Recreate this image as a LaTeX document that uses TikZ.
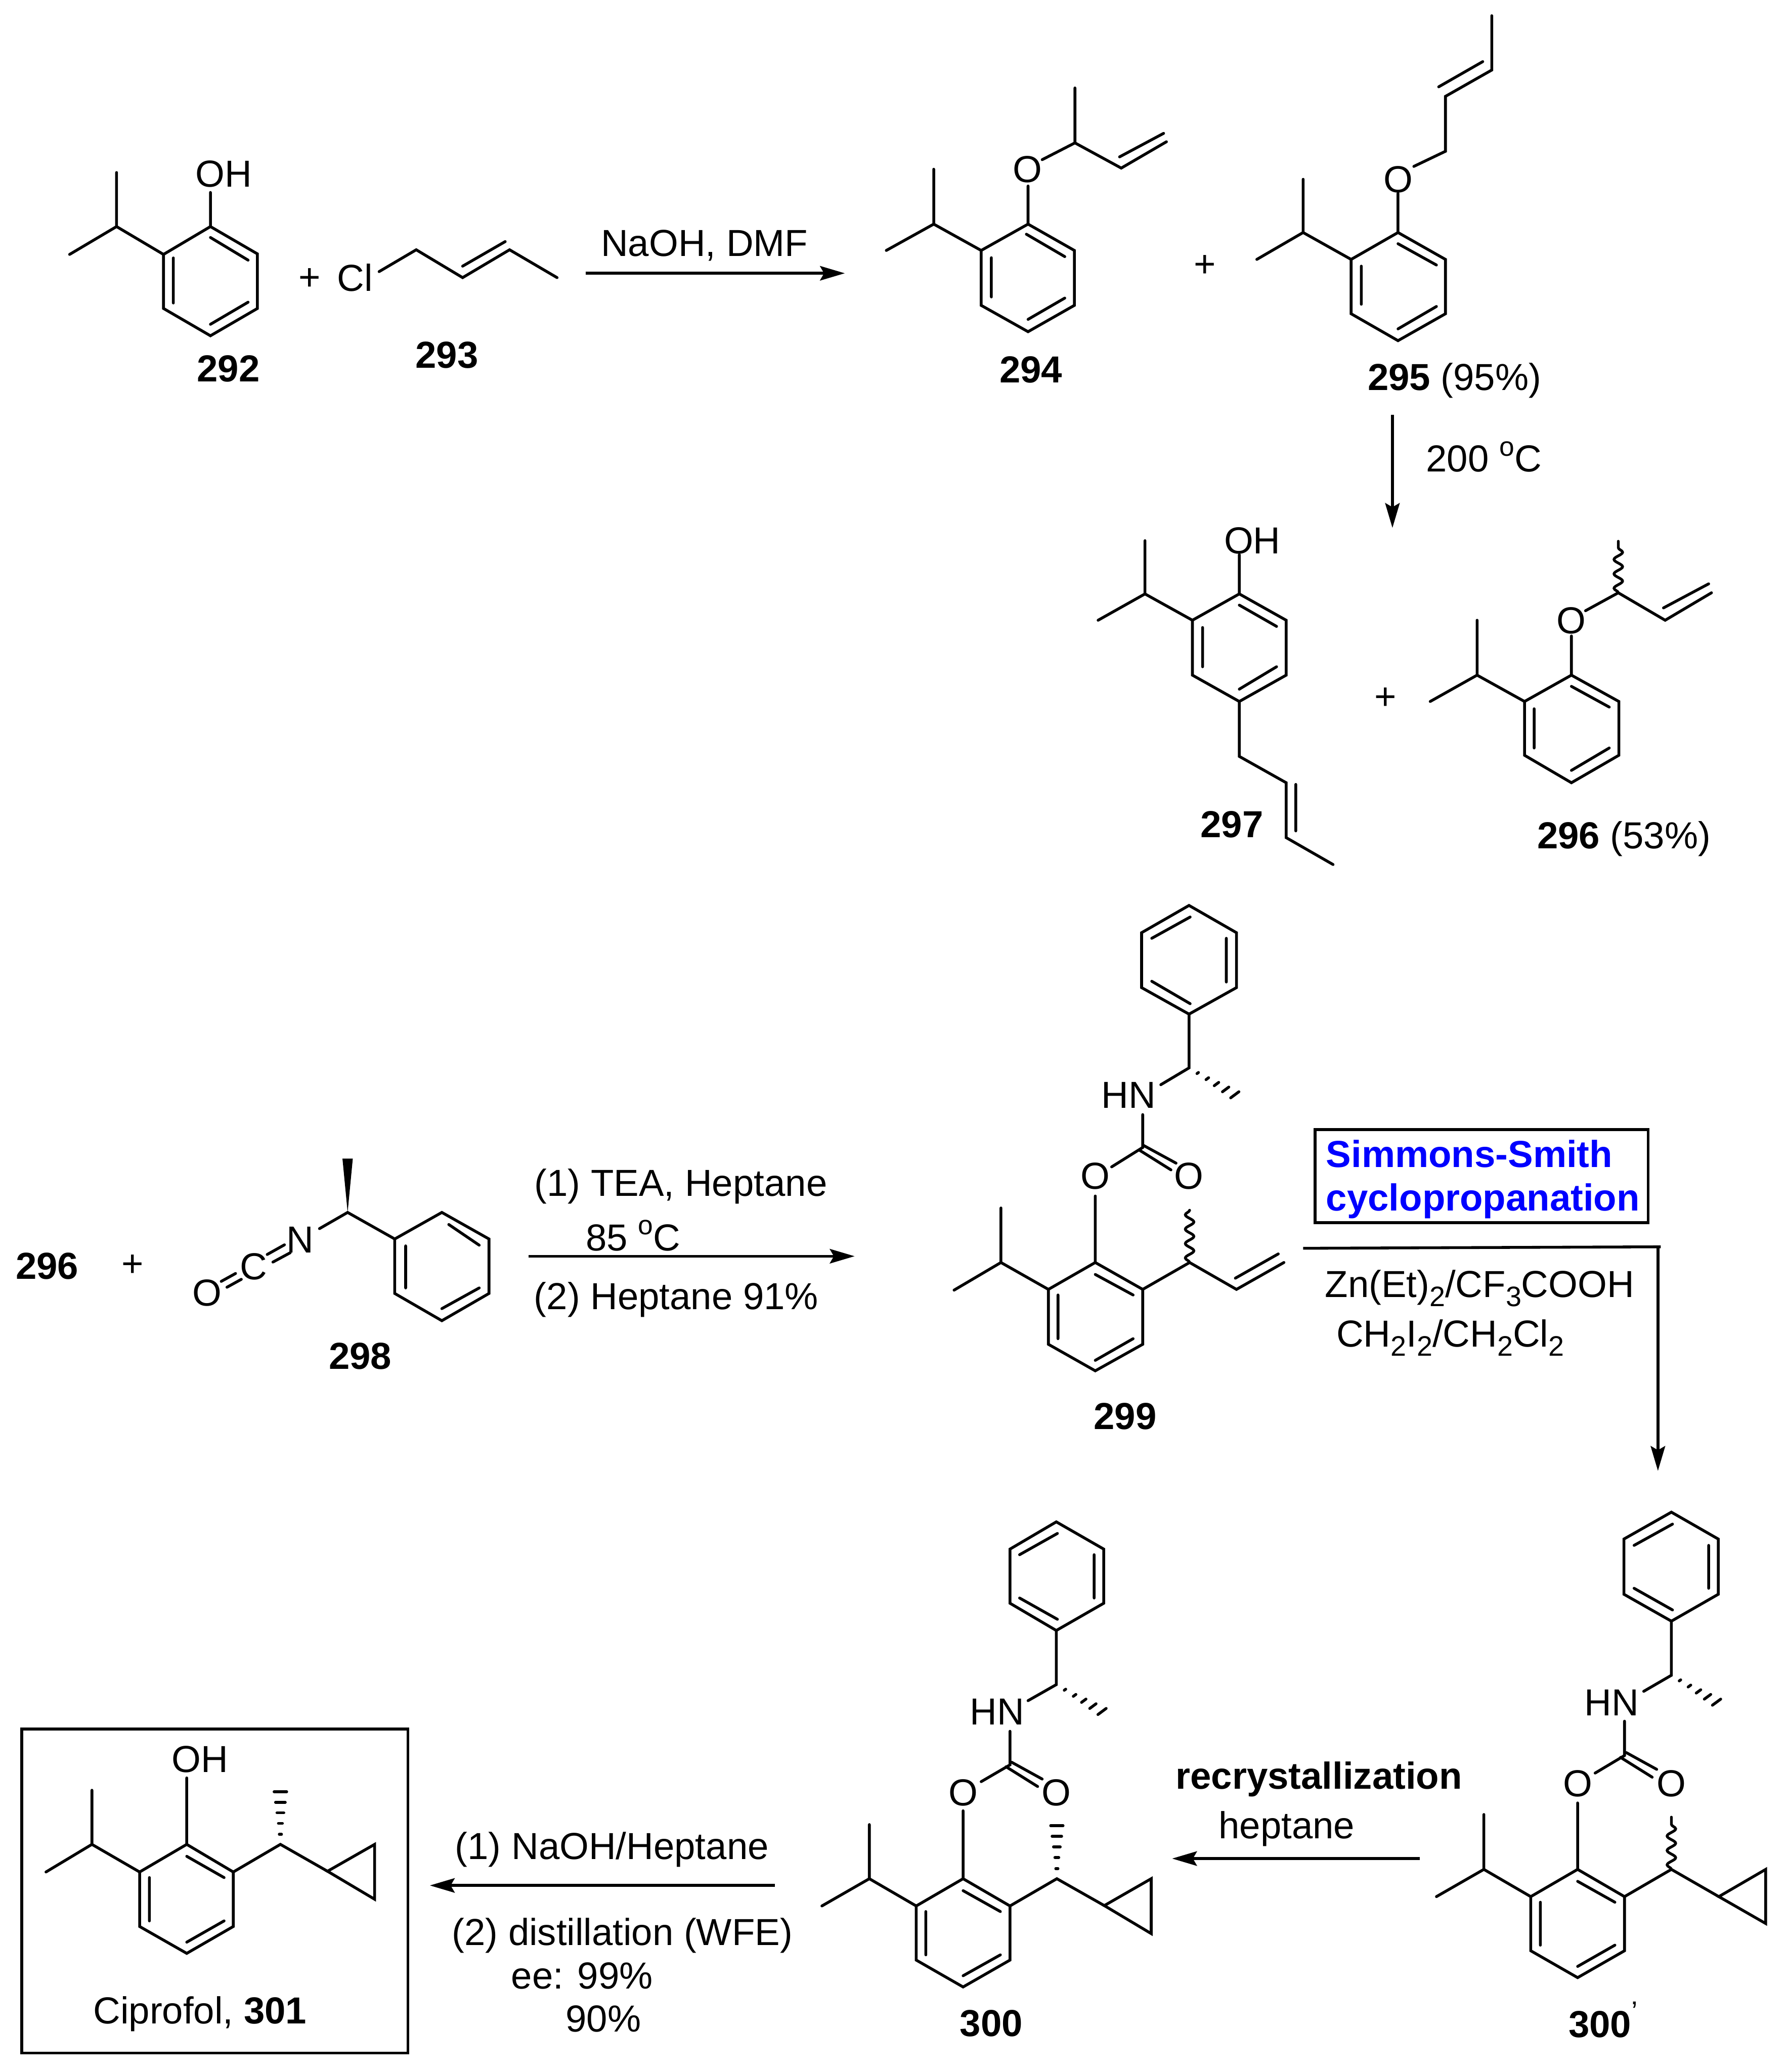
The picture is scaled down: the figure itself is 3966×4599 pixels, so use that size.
\documentclass[tikz,border=0pt]{standalone}
\usepackage{fontspec}
\setmainfont{Liberation Sans}
\usetikzlibrary{arrows.meta,calc,decorations.pathmorphing}
\newcommand\supo{\raisebox{0.42em}{\fontsize{12}{12}\selectfont o}}
\newcommand\subn[1]{\raisebox{-0.24em}{\fontsize{12.5}{12.5}\selectfont #1}}
\newcommand\hashb[2]{\foreach \hT/\hW in {.19/.4pt,.4/.7pt,.6/1.2pt,.8/1.7pt,1/2.2pt}{%
  \draw[bond] ($($#1!\hT!#2$)!\hW!90:#1$) -- ($($#1!\hT!#2$)!\hW!-90:#1$);}}
\tikzset{
  bond/.style={line width=1.25pt,line join=miter,line cap=round},
  rxn/.style={line width=1.25pt,-{Stealth[length=11pt,width=6.4pt,inset=1.8pt]}},
  wavy/.style={line width=1.2pt,line cap=round,decorate,decoration={snake,amplitude=1.9pt,segment length=6.4pt}},
  txt/.style={inner sep=0pt,font=\fontsize{16.7}{20}\selectfont},
  lab/.style={inner sep=0pt,font=\fontsize{16.7}{20}\selectfont\bfseries},
  blu/.style={inner sep=0pt,anchor=west,text=blue,font=\fontsize{16.7}{20}\selectfont\bfseries},
  frame/.style={line width=1.25pt}
}
\begin{document}
\begin{tikzpicture}[x=0.2pt,y=-0.2pt]
\useasboundingbox (0,0) rectangle (3966,4599);
% ---------- A: 292, 293
\begin{scope}[shift={(100,0)},xscale=1.2117,yscale=0.6059]
\draw[bond] (131,632)--(131,830) (45,932)--(131,830)--(217,932);
\draw[bond] (303,830)--(389,930)--(389,1130)--(303,1230)--(217,1130)--(217,932)--cycle;
\draw[bond] (303,830)--(303,705) (303,870)--(372,953) (372,1107)--(303,1188) (235,1110)--(235,945);
\node[txt] (oh292) at (327,637) {OH};
\node[lab] (n292) at (336,1350) {292};
\node[txt] (p1) at (485,1023) {+};
\node[txt] (cl) at (568,1018) {Cl};
\draw[bond] (612,995)--(680,915)--(765,1017)--(851,915)--(938,1017) (765,975)--(843,885);
\node[lab] (n293) at (736,1300) {293};
\node[txt] (r1) at (1208,900) {NaOH, DMF};
\coordinate (a1s) at (990,1001); \coordinate (a1e) at (1465,1001);
\draw[rxn] (a1s)--(a1e);
\end{scope}
% ---------- B: 294-297
\begin{scope}[shift={(2000,0)},xscale=1.2538,yscale=1.2436]
\draw[bond] (58,302)--(58,400) (-26,447)--(58,400)--(142,447);
\draw[bond] (225,400)--(307,447)--(307,545)--(225,592)--(142,545)--(142,447)--cycle;
\draw[bond] (225,400)--(225,332) (250,285)--(308,255)--(308,157) (308,255)--(390,300)--(470,253) (387,280)--(465,238);
\draw[bond] (222,418)--(290,458) (290,532)--(225,570) (160,530)--(160,460);
\node[txt] (o294) at (224,302) {O};
\node[lab] (n294) at (230,660) {294};
\node[txt] (p2) at (538,475) {+};
\draw[bond] (712,320)--(712,415) (630,463)--(712,415)--(797,463);
\draw[bond] (880,415)--(964,463)--(964,560)--(880,608)--(797,560)--(797,463)--cycle;
\draw[bond] (880,415)--(880,345) (908,297)--(964,270)--(964,172)--(1046,125)--(1046,28) (952,155)--(1030,110);
\draw[bond] (880,435)--(948,473) (948,547)--(880,587) (815,543)--(815,475);
\node[txt] (o295) at (880,320) {O};
\node[txt] (n295) at (980,679) {\textbf{295} (95\%)};
\coordinate (a2s) at (870,740); \coordinate (a2e) at (870,942);
\draw[rxn] (a2s)--(a2e);
\node[txt] (r2) at (1032,815) {200 \supo C};
\draw[bond] (432,965)--(432,1060) (349,1107)--(432,1060)--(516,1107);
\draw[bond] (599,1060)--(682,1107)--(682,1205)--(599,1252)--(516,1205)--(516,1107)--cycle;
\draw[bond] (599,1060)--(599,990) (599,1252)--(599,1350)--(682,1397)--(682,1495)--(765,1543) (699,1400)--(699,1483);
\draw[bond] (599,1080)--(665,1118) (665,1190)--(599,1230) (534,1190)--(534,1120);
\node[txt] (oh297) at (622,965) {OH};
\node[lab] (n297) at (586,1472) {297};
\node[txt] (p3) at (858,1247) {+};
\draw[bond] (1020,1107)--(1020,1205) (937,1252)--(1020,1205)--(1104,1252);
\draw[bond] (1187,1205)--(1271,1252)--(1271,1348)--(1187,1397)--(1104,1348)--(1104,1252)--cycle;
\draw[bond] (1187,1205)--(1187,1135) (1212,1090)--(1270,1058)--(1353,1107)--(1435,1058) (1350,1085)--(1430,1042);
\draw[bond] (1187,1225)--(1254,1262) (1254,1335)--(1187,1375) (1121,1335)--(1121,1265);
\draw[wavy] (1270,1058)--(1270,966);
\node[txt] (o296) at (1187,1108) {O};
\node[txt] (n296) at (1280,1497) {\textbf{296} (53\%)};
\end{scope}
% ---------- C: 298
\begin{scope}[shift={(0,2000)},xscale=1.2755,yscale=0.7653]
\node[lab] (n296b) at (82,1058) {296};
\node[txt] (p4) at (231,1058) {+};
\node[txt] (o298) at (360,1136) {O};
\node[txt] (c298) at (441,1060) {C};
\node[txt] (n298a) at (522,983) {N};
\draw[bond] (385,1103)--(410,1080) (395,1120)--(420,1097) (465,1025)--(495,997) (475,1047)--(505,1020);
\draw[bond] (556,950)--(605,903)--(687,980);
\fill (596,747)--(614,747)--(605,903)--cycle;
\draw[bond] (687,980)--(769,903)--(851,980)--(851,1138)--(769,1217)--(687,1138)--cycle;
\draw[bond] (781,938)--(834,998) (706,1000)--(706,1122) (834,1122)--(769,1182);
\node[lab] (n298) at (627,1320) {298};
\node[txt] (r3a) at (1185,828) {(1) TEA, Heptane};
\node[txt] (r3b) at (1102,970) {85 \supo C};
\node[txt] (r3c) at (1177,1156) {(2) Heptane 91\%};
\coordinate (a3s) at (920,1030); \coordinate (a3e) at (1487,1030);
\draw[rxn] (a3s)--(a3e);
\end{scope}
% ---------- D: 299
\begin{scope}[shift={(2000,1950)},xscale=1.2538,yscale=0.829]
\draw[bond] (510,72)--(594,145)--(594,292)--(510,363)--(426,292)--(426,145)--cycle;
\draw[bond] (512,103)--(444,160) (576,160)--(576,277) (444,275)--(512,335);
\draw[bond] (510,363)--(510,507)--(460,552) (428,632)--(428,720)--(373,772);
\hashb{(510,507)}{(591,579)}
\draw[bond] (430,715)--(487,762) (422,727)--(478,780);
\node[txt] (hn299) at (403,580) {HN};
\node[txt] (o299a) at (344,797) {O};
\node[txt] (o299b) at (510,797) {O};
\draw[bond] (344,850)--(344,1028) (177,882)--(177,1028) (94,1102)--(177,1028)--(261,1100);
\draw[bond] (344,1028)--(428,1100)--(428,1247)--(344,1318)--(261,1247)--(261,1100)--cycle;
\draw[bond] (344,1060)--(411,1115) (411,1232)--(344,1290) (278,1232)--(278,1115);
\draw[bond] (428,1100)--(511,1028)--(594,1100)--(678,1028) (592,1070)--(668,1005);
\draw[wavy] (511,1028)--(511,888);
\node[lab] (n299) at (397,1440) {299};
\draw[frame] (733,672) rectangle (1323,921);
\node[blu] (ss1) at (752,737) {Simmons-Smith};
\node[blu] (ss2) at (752,864) {cyclopropanation};
\coordinate (a4s) at (712,990); \coordinate (a4m) at (1345,986);
\coordinate (a4t) at (1340,986); \coordinate (a4e) at (1340,1586);
\draw[frame] (a4s)--(a4m);
\draw[rxn] (a4t)--(a4e);
\node[txt,anchor=west] (r4a) at (750,1097) {Zn(Et)\subn{2}/CF\subn{3}COOH};
\node[txt,anchor=west] (r4b) at (770,1229) {CH\subn{2}I\subn{2}/CH\subn{2}Cl\subn{2}};
\end{scope}
% ---------- E: 301
\begin{scope}[shift={(0,3300)},xscale=1.2755,yscale=0.8285]
\draw[frame] (38,649) rectangle (710,1517);
\node[txt] (oh301) at (348,730) {OH};
\draw[bond] (325,780)--(325,958) (160,813)--(160,958) (80,1032)--(160,958)--(243,1032);
\draw[bond] (325,958)--(406,1032)--(406,1178)--(325,1250)--(243,1178)--(243,1032)--cycle;
\draw[bond] (325,990)--(390,1047) (390,1163)--(325,1220) (260,1163)--(260,1047);
\draw[bond] (406,1032)--(488,958)--(570,1030);
\draw[bond] (570,1030)--(652,958)--(652,1105)--cycle;
\hashb{(488,958)}{(488,817)}
\node[txt] (n301) at (348,1412) {Ciprofol, \textbf{301}};
\node[txt] (r6a) at (1065,972) {(1) NaOH/Heptane};
\node[txt] (r6b) at (1083,1202) {(2) distillation (WFE)};
\node[txt] (r6c) at (1013,1310) {ee: 99\%};
\node[txt] (r6d) at (1050,1425) {90\%};
\coordinate (a6s) at (1348,1068); \coordinate (a6e) at (748,1068);
\draw[rxn] (a6s)--(a6e);
\end{scope}
% ---------- F: 300, 300'
\begin{scope}[shift={(2000,3300)},xscale=1.2538,yscale=0.8285]
\draw[bond] (-56,905)--(-56,1050) (-140,1123)--(-56,1050)--(27,1123);
\draw[bond] (110,1050)--(193,1123)--(193,1268)--(110,1340)--(27,1268)--(27,1123)--cycle;
\draw[bond] (110,1082)--(176,1138) (176,1254)--(110,1310) (44,1254)--(44,1138);
\draw[bond] (110,868)--(110,1050) (142,790)--(193,745)--(193,655);
\draw[bond] (196,738)--(250,783) (186,750)--(242,803);
\draw[bond] (225,573)--(275,530)--(275,385);
\draw[bond] (275,385)--(359,312)--(359,167)--(275,94)--(193,167)--(193,312)--cycle;
\draw[bond] (277,125)--(210,182) (342,182)--(342,298) (210,298)--(277,355);
\hashb{(275,530)}{(356,602)}
\draw[bond] (193,1123)--(276,1050)--(360,1122);
\draw[bond] (360,1122)--(443,1050)--(443,1197)--cycle;
\hashb{(276,1050)}{(276,908)}
\node[txt] (o300a) at (110,820) {O};
\node[txt] (o300b) at (275,820) {O};
\node[txt] (hn300) at (170,603) {HN};
\node[lab] (n300) at (160,1437) {300};
\node[lab] (r5a) at (740,783) {recrystallization};
\node[txt] (r5b) at (683,917) {heptane};
\coordinate (a5s) at (918,996); \coordinate (a5e) at (480,996);
\draw[rxn] (a5s)--(a5e);
\draw[bond] (1032,878)--(1032,1025) (948,1098)--(1032,1025)--(1115,1098);
\draw[bond] (1198,1025)--(1281,1098)--(1281,1243)--(1198,1315)--(1115,1243)--(1115,1098)--cycle;
\draw[bond] (1198,1057)--(1264,1113) (1264,1228)--(1198,1285) (1132,1228)--(1132,1113);
\draw[bond] (1198,847)--(1198,1025) (1229,767)--(1281,720)--(1281,628);
\draw[bond] (1284,712)--(1338,757) (1274,725)--(1330,778);
\draw[bond] (1315,548)--(1364,505)--(1364,360);
\draw[bond] (1364,360)--(1447,288)--(1447,140)--(1364,68)--(1280,140)--(1280,288)--cycle;
\draw[bond] (1366,100)--(1298,157) (1430,157)--(1430,272) (1298,272)--(1366,330);
\hashb{(1364,505)}{(1444,577)}
\draw[bond] (1281,1098)--(1364,1025)--(1448,1098);
\draw[bond] (1448,1098)--(1531,1025)--(1531,1170)--cycle;
\draw[wavy] (1364,1025)--(1364,885);
\node[txt] (o300c) at (1198,795) {O};
\node[txt] (o300d) at (1364,795) {O};
\node[txt] (hn300c) at (1258,578) {HN};
\node[txt] (n300c) at (1243,1428) {\textbf{300}\raisebox{0.42em}{\fontsize{12.5}{12.5}\selectfont '}};
\end{scope}
\end{tikzpicture}
\end{document}
